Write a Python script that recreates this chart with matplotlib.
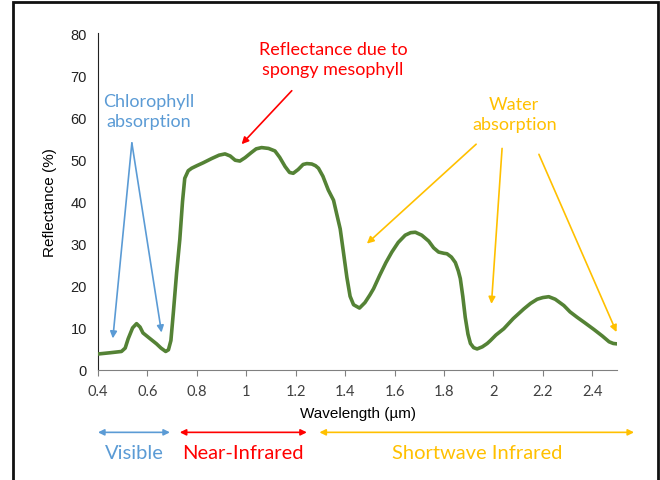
import matplotlib
matplotlib.use("Agg")
import matplotlib.pyplot as plt
from matplotlib.patches import Rectangle

# leaf spectral reflectance
wavelength = [0.40, 0.45, 0.495, 0.51, 0.522, 0.54, 0.556, 0.57, 0.582, 0.603,
              0.62, 0.637, 0.655, 0.674, 0.685, 0.695, 0.705, 0.718, 0.731, 0.742,
              0.751, 0.765, 0.779, 0.80, 0.826, 0.86, 0.89, 0.914, 0.935, 0.955,
              0.974, 0.995, 1.02, 1.04, 1.062, 1.09, 1.116, 1.135, 1.157, 1.175,
              1.19, 1.21, 1.23, 1.245, 1.265, 1.28, 1.292, 1.31, 1.332, 1.353,
              1.366, 1.38, 1.393, 1.407, 1.42, 1.434, 1.458, 1.48, 1.50, 1.515,
              1.54, 1.565, 1.589, 1.615, 1.643, 1.665, 1.684, 1.71, 1.738, 1.758,
              1.778, 1.80, 1.812, 1.83, 1.846, 1.858, 1.866, 1.876, 1.886, 1.897,
              1.907, 1.92, 1.934, 1.955, 1.975, 1.988, 2.01, 2.042, 2.08, 2.123,
              2.15, 2.177, 2.20, 2.224, 2.25, 2.285, 2.31, 2.339, 2.37, 2.407,
              2.44, 2.468, 2.485, 2.50]
reflectance = [3.8, 4.1, 4.4, 5.2, 7.4, 10.0, 11.0, 10.2, 8.8, 7.8,
               7.0, 6.2, 5.2, 4.4, 4.8, 7.0, 13.7, 23.0, 31.0, 40.0,
               45.5, 47.3, 47.9, 48.5, 49.2, 50.2, 51.0, 51.3, 50.8, 49.8,
               49.6, 50.4, 51.6, 52.5, 52.8, 52.6, 52.0, 50.5, 48.3, 46.9,
               46.7, 47.6, 48.8, 49.0, 48.9, 48.5, 47.9, 46.0, 42.7, 40.3,
               37.0, 33.5, 28.0, 22.0, 17.5, 15.5, 14.7, 16.0, 17.8, 19.3,
               22.5, 25.5, 28.0, 30.3, 32.0, 32.6, 32.7, 32.0, 30.6, 29.0,
               28.0, 27.7, 27.6, 26.8, 25.5, 23.5, 21.7, 17.5, 12.5, 8.5,
               6.3, 5.3, 5.0, 5.5, 6.3, 7.0, 8.3, 9.8, 12.2, 14.5,
               15.8, 16.8, 17.2, 17.4, 16.8, 15.3, 13.8, 12.5, 11.2, 9.6,
               8.1, 6.7, 6.3, 6.2]

x_ticks = [0.4, 0.6, 0.8, 1.0, 1.2, 1.4, 1.6, 1.8, 2.0, 2.2, 2.4]
x_labels = ["0.4", "0.6", "0.8", "1", "1.2", "1.4", "1.6", "1.8", "2", "2.2", "2.4"]
y_ticks = [0, 10, 20, 30, 40, 50, 60, 70, 80]

# spectral regions (start, end, label)
regions = [(0.40, 0.691, "Visible"),
           (0.731, 1.245, "Near-Infrared"),
           (1.296, 2.569, "Shortwave Infrared")]

GREEN = "#548235"
BLUE = "#5B9BD5"
RED = "#FF0000"
GOLD = "#FFC000"
ANN_FONT = ["Lato", "DejaVu Sans"]

fig = plt.figure(figsize=(6.6, 4.81), dpi=100)
ax = fig.add_axes([98 / 660, 1 - 371 / 481, (617 - 98) / 660, (371 - 34) / 481])

ax.plot(wavelength, reflectance, color=GREEN, lw=2.6, solid_capstyle="round",
        solid_joinstyle="round", zorder=3)

ax.set_xlim(0.4, 2.5)
ax.set_ylim(0, 80)
ax.set_xticks(x_ticks)
ax.set_xticklabels(x_labels, fontfamily=ANN_FONT, fontsize=10.5, color="#404040")
ax.set_yticks(y_ticks)
ax.tick_params(axis="y", length=0, pad=8, labelsize=10.5, labelcolor="#222222")
ax.tick_params(axis="x", length=4, color="#808080", direction="out", pad=6)
for lbl in ax.get_yticklabels():
    lbl.set_fontfamily("Liberation Sans")
for s in ["top", "right"]:
    ax.spines[s].set_visible(False)
ax.spines["left"].set_color("#222222")
ax.spines["bottom"].set_color("#808080")

ax.set_ylabel("Reflectance (%)", fontfamily="Liberation Sans", fontsize=11, labelpad=10)
ax.set_xlabel("Wavelength (µm)", fontfamily="Liberation Sans", fontsize=11, labelpad=6)

arrow = dict(arrowstyle="-|>", lw=1.2, mutation_scale=10, shrinkA=0, shrinkB=0)

# chlorophyll absorption
ax.text(0.606, 61.4, "Chlorophyll\nabsorption", color=BLUE, fontsize=13,
        fontfamily=ANN_FONT, ha="center", va="center", linespacing=1.3)
for tip in [(0.46, 7.5), (0.657, 8.9)]:
    ax.annotate("", xy=tip, xytext=(0.537, 53.9), arrowprops=dict(arrow, color=BLUE))

# spongy mesophyll
ax.text(1.351, 73.8, "Reflectance due to\nspongy mesophyll", color=RED, fontsize=13,
        fontfamily=ANN_FONT, ha="center", va="center", linespacing=1.3)
ax.annotate("", xy=(0.981, 53.6), xytext=(1.184, 66.3), arrowprops=dict(arrow, color=RED))

# water absorption
ax.text(2.084, 60.8, "Water\nabsorption", color=GOLD, fontsize=13,
        fontfamily=ANN_FONT, ha="center", va="center", linespacing=1.3)
for start, tip in [((1.93, 53.6), (1.488, 30.0)),
                   ((2.035, 52.6), (1.992, 15.7)),
                   ((2.184, 51.2), (2.498, 9.0))]:
    ax.annotate("", xy=tip, xytext=start, arrowprops=dict(arrow, color=GOLD))

# spectral region bars below the axis
for (x0, x1, name), col in zip(regions, [BLUE, RED, GOLD]):
    ax.annotate("", xy=(x1, -14.8), xytext=(x0, -14.8), annotation_clip=False,
                arrowprops=dict(arrowstyle="<|-|>", lw=1.2, mutation_scale=9,
                                color=col, shrinkA=0, shrinkB=0))
    ax.text((x0 + x1) / 2, -19.6, name, color=col, fontsize=14.5, fontfamily=ANN_FONT,
            ha="center", va="center", clip_on=False)

# outer frame
fig.patches.append(Rectangle((13 / 660, -0.05), (658 - 13) / 660, 1.05 - 3 / 481,
                             transform=fig.transFigure, fill=False, lw=2,
                             edgecolor="#111111"))

plt.savefig("out.png", dpi=100)
